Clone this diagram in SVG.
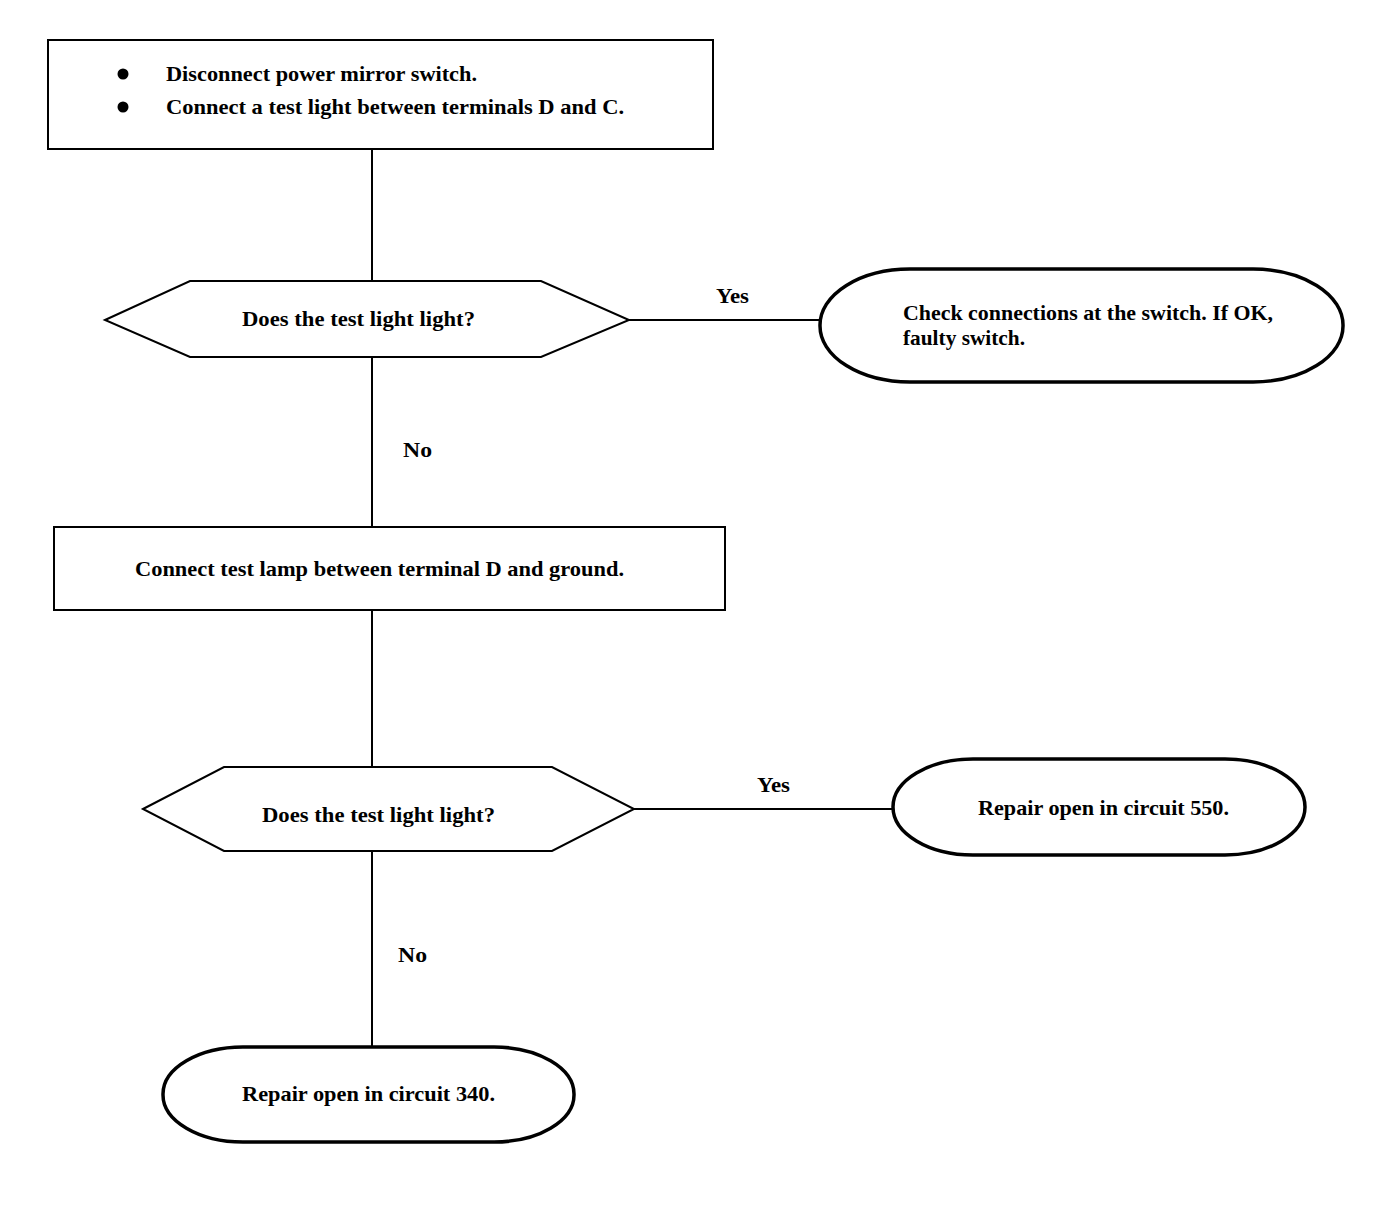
<svg xmlns="http://www.w3.org/2000/svg" width="1392" height="1230" viewBox="0 0 1392 1230">
<style>
.box{fill:#fff;stroke:#000;stroke-width:2}
.term{fill:#fff;stroke:#000;stroke-width:3.5}
.ln{stroke:#000;stroke-width:2;fill:none}
text{font-family:"Liberation Serif","Times New Roman",serif;font-size:21px;font-weight:bold;fill:#000}
</style>
<rect width="1392" height="1230" fill="#fff"/>
<g id="connectors">
<line class="ln" x1="372" y1="149" x2="372" y2="281"/>
<line class="ln" x1="629" y1="320" x2="820" y2="320"/>
<line class="ln" x1="372" y1="357" x2="372" y2="527"/>
<line class="ln" x1="372" y1="610" x2="372" y2="767"/>
<line class="ln" x1="634" y1="809" x2="893" y2="809"/>
<line class="ln" x1="372" y1="851" x2="372" y2="1047"/>
<text x="716" y="303" textLength="33" lengthAdjust="spacingAndGlyphs">Yes</text>
<text x="403" y="457" textLength="29" lengthAdjust="spacingAndGlyphs">No</text>
<text x="757" y="792" textLength="33" lengthAdjust="spacingAndGlyphs">Yes</text>
<text x="398" y="962" textLength="29" lengthAdjust="spacingAndGlyphs">No</text>
</g>
<g id="start">
<rect class="box" x="48" y="40" width="665" height="109"/>
<circle cx="123" cy="74" r="5.5"/>
<circle cx="123" cy="107" r="5.5"/>
<text x="166" y="81" textLength="311" lengthAdjust="spacingAndGlyphs">Disconnect power mirror switch.</text>
<text x="166" y="114" textLength="458" lengthAdjust="spacingAndGlyphs">Connect a test light between terminals D and C.</text>
</g>
<g id="decision1">
<polygon class="box" points="105,320 190,281 541,281 629,320 541,357 190,357"/>
<text x="242" y="326" textLength="233" lengthAdjust="spacingAndGlyphs">Does the test light light?</text>
</g>
<g id="end1">
<rect class="term" x="820" y="269" width="523" height="113" rx="90" ry="56"/>
<text x="903" y="320" textLength="370" lengthAdjust="spacingAndGlyphs">Check connections at the switch. If OK,</text>
<text x="903" y="345" textLength="122" lengthAdjust="spacingAndGlyphs">faulty switch.</text>
</g>
<g id="step2">
<rect class="box" x="54" y="527" width="671" height="83"/>
<text x="135" y="576" textLength="489" lengthAdjust="spacingAndGlyphs">Connect test lamp between terminal D and ground.</text>
</g>
<g id="decision2">
<polygon class="box" points="143,809 224,767 552,767 634,809 552,851 224,851"/>
<text x="262" y="822" textLength="233" lengthAdjust="spacingAndGlyphs">Does the test light light?</text>
</g>
<g id="end2">
<rect class="term" x="893" y="759" width="412" height="96" rx="80" ry="48"/>
<text x="978" y="815" textLength="251" lengthAdjust="spacingAndGlyphs">Repair open in circuit 550.</text>
</g>
<g id="end3">
<rect class="term" x="163" y="1047" width="411" height="95" rx="80" ry="47"/>
<text x="242" y="1101" textLength="253" lengthAdjust="spacingAndGlyphs">Repair open in circuit 340.</text>
</g>
</svg>
